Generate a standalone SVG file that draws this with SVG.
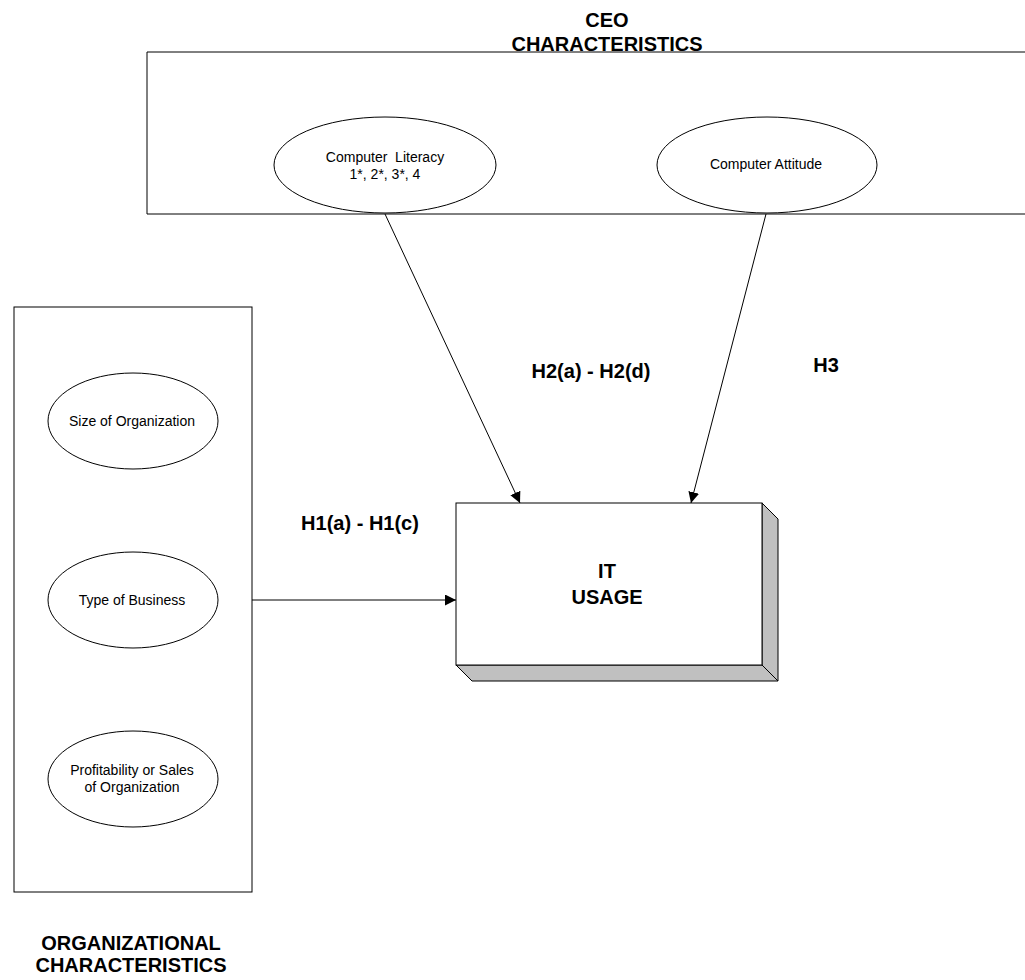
<svg xmlns="http://www.w3.org/2000/svg" width="1025" height="980" viewBox="0 0 1025 980">
<defs>
<style>
.box{fill:#fff;stroke:#000;stroke-width:1}
.ell{fill:#fff;stroke:#000;stroke-width:1}
.conn{stroke:#000;stroke-width:1;fill:none}
.sm{font-family:"Liberation Sans",Arial,sans-serif;font-size:14px;fill:#000;text-anchor:middle;white-space:pre}
.bd{font-family:"Liberation Sans",Arial,sans-serif;font-size:20px;font-weight:bold;fill:#000;text-anchor:middle}
</style>
<marker id="arr" viewBox="0 0 10 10" refX="10" refY="5" markerWidth="11" markerHeight="11" markerUnits="userSpaceOnUse" orient="auto">
<path d="M0,0 L10,5 L0,10 z" fill="#000"/>
</marker>
</defs>
<rect width="1025" height="980" fill="#fff"/>
<g id="ceo-group">
<path class="box" d="M1026,52 H147 V214 H1026"/>
<text class="bd" x="607" y="27">CEO</text>
<text class="bd" x="607" y="51">CHARACTERISTICS</text>
</g>
<g id="computer-literacy">
<ellipse class="ell" cx="385" cy="165" rx="111" ry="48"/>
<text class="sm" x="385" y="162">Computer  Literacy</text>
<text class="sm" x="385" y="179">1*, 2*, 3*, 4</text>
</g>
<g id="computer-attitude">
<ellipse class="ell" cx="767" cy="165" rx="110" ry="48"/>
<text class="sm" x="766" y="169">Computer Attitude</text>
</g>
<g id="org-group">
<rect class="box" x="14" y="307" width="238" height="585"/>
<text class="bd" x="131" y="950">ORGANIZATIONAL</text>
<text class="bd" x="131" y="972">CHARACTERISTICS</text>
</g>
<g id="size">
<ellipse class="ell" cx="133" cy="421" rx="85" ry="48"/>
<text class="sm" x="132" y="426">Size of Organization</text>
</g>
<g id="type">
<ellipse class="ell" cx="133" cy="600" rx="85" ry="48"/>
<text class="sm" x="132" y="605">Type of Business</text>
</g>
<g id="profit">
<ellipse class="ell" cx="133" cy="779" rx="85" ry="48"/>
<text class="sm" x="132" y="775">Profitability or Sales</text>
<text class="sm" x="132" y="792">of Organization</text>
</g>
<g id="it-usage">
<path d="M762,503 L778,519 L778,681 L472,681 L456,665 L762,665 z" fill="#c0c0c0" stroke="#000" stroke-width="1"/>
<line x1="762" y1="665" x2="778" y2="681" stroke="#000"/>
<rect class="box" x="456" y="503" width="306" height="162"/>
<text class="bd" x="607" y="578">IT</text>
<text class="bd" x="607" y="604">USAGE</text>
</g>
<g id="connectors">
<line class="conn" x1="385" y1="214" x2="520" y2="503" marker-end="url(#arr)"/>
<line class="conn" x1="766" y1="214" x2="691" y2="503" marker-end="url(#arr)"/>
<line class="conn" x1="252" y1="600" x2="456" y2="600" marker-end="url(#arr)"/>
<text class="bd" x="591" y="378">H2(a) - H2(d)</text>
<text class="bd" x="826" y="372">H3</text>
<text class="bd" x="360" y="530">H1(a) - H1(c)</text>
</g>
</svg>
